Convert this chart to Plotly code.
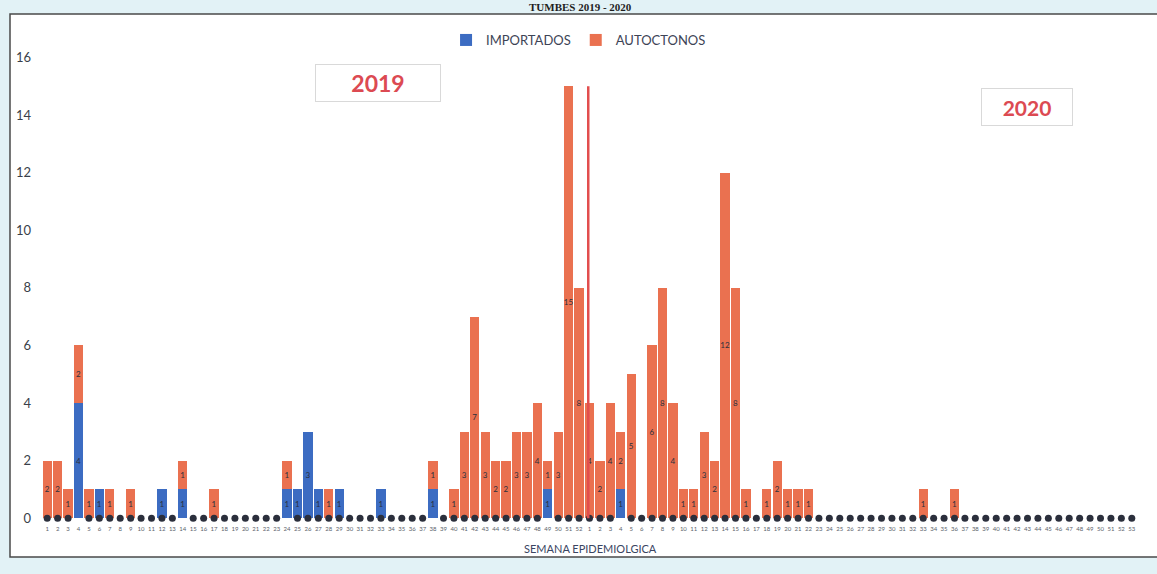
import plotly.graph_objects as go

# ---------------- data ----------------
semanas_2019 = list(range(1, 53))
semanas_2020 = list(range(1, 54))

importados_2019 = [0, 0, 0, 4, 0, 1, 0, 0, 0, 0, 0, 1, 0, 1, 0, 0, 0, 0, 0, 0,
                   0, 0, 0, 1, 1, 3, 1, 0, 1, 0, 0, 0, 1, 0, 0, 0, 0, 1, 0, 0,
                   0, 0, 0, 0, 0, 0, 0, 0, 1, 0, 0, 0]
autoctonos_2019 = [2, 2, 1, 2, 1, 0, 1, 0, 1, 0, 0, 0, 0, 1, 0, 0, 1, 0, 0, 0,
                   0, 0, 0, 1, 0, 0, 0, 1, 0, 0, 0, 0, 0, 0, 0, 0, 0, 1, 0, 1,
                   3, 7, 3, 2, 2, 3, 3, 4, 1, 3, 15, 8]
importados_2020 = [0, 0, 0, 1, 0, 0, 0, 0, 0, 0, 0, 0, 0, 0, 0, 0, 0, 0, 0, 0,
                   0, 0, 0, 0, 0, 0, 0, 0, 0, 0, 0, 0, 0, 0, 0, 0, 0, 0, 0, 0,
                   0, 0, 0, 0, 0, 0, 0, 0, 0, 0, 0, 0, 0]
autoctonos_2020 = [4, 2, 4, 2, 5, 0, 6, 8, 4, 1, 1, 3, 2, 12, 8, 1, 0, 1, 2, 1,
                   1, 1, 0, 0, 0, 0, 0, 0, 0, 0, 0, 0, 1, 0, 0, 1, 0, 0, 0, 0,
                   0, 0, 0, 0, 0, 0, 0, 0, 0, 0, 0, 0, 0]

# thin stray bar line visible at 2020 week 1 in the source
linea_semana_2020 = 1
linea_valores = [0, 15]

y_ticks = [0, 2, 4, 6, 8, 10, 12, 14, 16]

# ---------------- build ----------------
etiquetas = [str(s) for s in semanas_2019] + [str(s) for s in semanas_2020]
importados = importados_2019 + importados_2020
autoctonos = autoctonos_2019 + autoctonos_2020
idx = list(range(len(etiquetas)))

AZUL = "#3c6cc2"
NARANJA = "#ea7150"
OSCURO = "#2b2f3c"
FONT = "Lato"

fig = go.Figure()
fig.add_trace(go.Bar(
    x=idx, y=importados, name="IMPORTADOS", marker_color=AZUL,
    marker_line_width=0,
    text=[str(v) if v else "" for v in importados],
    textposition="inside", insidetextanchor="middle", textangle=0,
    constraintext="none",
    textfont=dict(size=8, color=OSCURO, family=FONT),
    hoverinfo="skip"))
fig.add_trace(go.Bar(
    x=idx, y=autoctonos, name="AUTOCTONOS", marker_color=NARANJA,
    marker_line_width=0,
    text=[str(v) if v else "" for v in autoctonos],
    textposition="inside", insidetextanchor="middle", textangle=0,
    constraintext="none",
    textfont=dict(size=8, color=OSCURO, family=FONT),
    hoverinfo="skip"))

# zero-value data labels appear as dark dots on the baseline
cero_x = [i for i in idx if importados[i] == 0 or autoctonos[i] == 0]
fig.add_trace(go.Scatter(
    x=cero_x, y=[0] * len(cero_x), mode="markers",
    marker=dict(color=OSCURO, size=7, symbol="circle"),
    showlegend=False, hoverinfo="skip", cliponaxis=False))

# stray thin line
xi = len(semanas_2019) + semanas_2020.index(linea_semana_2020) - 0.12
fig.add_trace(go.Scatter(
    x=[xi, xi], y=linea_valores, mode="lines",
    line=dict(color="#e24e4e", width=2.5),
    showlegend=False, hoverinfo="skip"))

L, R, T, B = 42, 20, 46, 50
W, H = 1157, 574
ph = H - T - B
pw = W - L - R


def px(xp):
    return (xp - L) / pw


def py(yp):
    return (H - B - yp) / ph


fig.update_layout(
    width=W, height=H,
    margin=dict(l=L, r=R, t=T, b=B),
    paper_bgcolor="#e2f2f6",
    plot_bgcolor="white",
    barmode="stack", bargap=0.12,
    font=dict(family=FONT, color="#3a3f4a"),
    legend=dict(orientation="h", x=0.49, xanchor="center",
                y=py(40), yanchor="middle", traceorder="normal",
                font=dict(size=13, color="#3d4456", family=FONT),
                bgcolor="rgba(0,0,0,0)", tracegroupgap=0),
    xaxis=dict(range=[-0.5, len(idx) - 0.5], tickmode="array",
               tickvals=idx, ticktext=etiquetas, tickangle=0,
               tickfont=dict(size=6, color="#5a5f6a"),
               showgrid=False, zeroline=False, showline=False, ticks=""),
    yaxis=dict(range=[-0.2, 16.4], tickvals=y_ticks,
               tickfont=dict(size=13, color="#3a3f4a"),
               ticklabelstandoff=10,
               showgrid=False, zeroline=False, showline=False, ticks=""),
    shapes=[dict(type="rect", xref="paper", yref="paper",
                 x0=px(10), x1=px(1175), y0=py(557), y1=py(14),
                 fillcolor="white", line=dict(color="#4a4a4a", width=1.5),
                 layer="below")],
    annotations=[
        dict(text="<b>TUMBES 2019 - 2020</b>", xref="paper", yref="paper",
             x=px(580), y=py(7), xanchor="center", yanchor="middle",
             showarrow=False,
             font=dict(family="Liberation Serif", size=11, color="#1e1e1e")),
        dict(text="<b>2019</b>", xref="paper", yref="paper",
             x=px(378), y=py(83), xanchor="center", yanchor="middle",
             showarrow=False, width=118, height=30,
             bordercolor="#d9d9d9", borderwidth=1, borderpad=3,
             bgcolor="white",
             font=dict(family=FONT, size=23, color="#dc4a52")),
        dict(text="<b>2020</b>", xref="paper", yref="paper",
             x=px(1027), y=py(107), xanchor="center", yanchor="middle",
             showarrow=False, width=84, height=30,
             bordercolor="#d9d9d9", borderwidth=1, borderpad=3,
             bgcolor="white",
             font=dict(family=FONT, size=21, color="#dc4a52")),
        dict(text="SEMANA EPIDEMIOLGICA", xref="paper", yref="paper",
             x=px(590), y=py(548), xanchor="center", yanchor="middle",
             showarrow=False,
             font=dict(family=FONT, size=11, color="#3a4562")),
    ],
)

fig.write_html("out.html",
               config={"displayModeBar": False},
               post_script="document.body.style.margin='0';"
                           "document.body.style.overflow='hidden';")
